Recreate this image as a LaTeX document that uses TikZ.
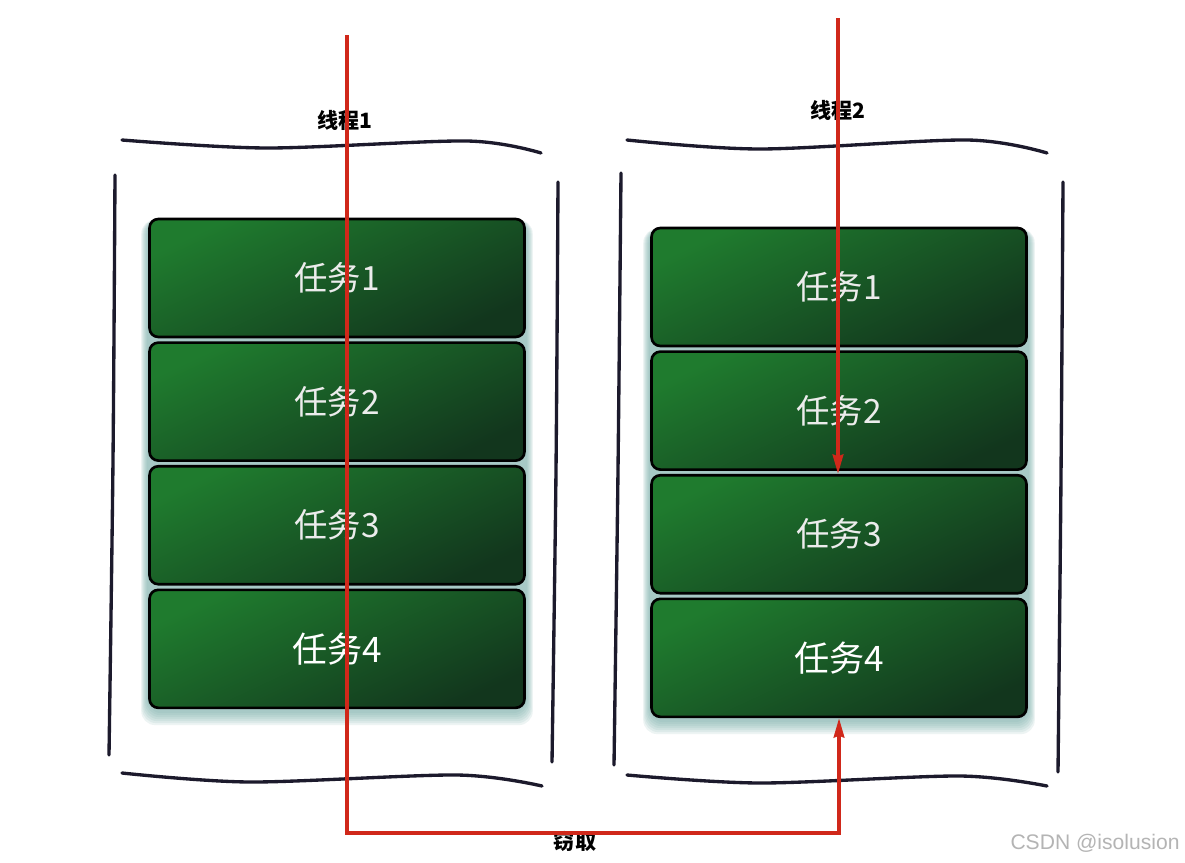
\documentclass[tikz,border=0pt]{standalone}
\usepackage{fontspec}
\setsansfont{Liberation Sans}
\newfontfamily\cjk{Noto Sans CJK SC}
\usetikzlibrary{arrows.meta,positioning,calc,backgrounds}
\definecolor{TaskHi}{HTML}{1F7B2E}
\definecolor{TaskLo}{HTML}{12361D}
\definecolor{StealRed}{HTML}{D0281A}
\definecolor{HandInk}{HTML}{1C1A2C}
\definecolor{GlowTeal}{HTML}{6FA9A4}
\definecolor{MarkGray}{HTML}{B4B4B4}

\begin{document}
\begin{tikzpicture}[x=0.02cm,y=-0.02cm,
    node distance=0.06cm,
    task/.style={draw=black,line width=1.5pt,rounded corners=5pt,
                 minimum width=7.5cm,minimum height=2.36cm,
                 top color=TaskHi,bottom color=TaskLo,shading angle=25,
                 font=\cjk\fontsize{19}{19}\selectfont,text=#1},
    task/.default=white!85!gray,
    hand/.style={HandInk,line width=1.9pt,line cap=round},
    ar/.style={-{Stealth[length=11pt,width=6pt,inset=1pt]},StealRed,line width=2pt},
    lbl/.style={font=\cjk\bfseries\fontsize{12}{12}\selectfont}]
\useasboundingbox (0,0) rectangle (1185,862);

% task stacks
\foreach \c/\x/\y in {1/337/278,2/839/287}{
  \node[task] (t\c1) at (\x,\y) {任务1};
  \node[task,below=of t\c1] (t\c2) {任务2};
  \node[task,below=of t\c2] (t\c3) {任务3};
  \node[task=white,below=of t\c3,font=\cjk\fontsize{20}{20}\selectfont] (t\c4) {任务4};
}
\begin{scope}[on background layer]
  \fill[white] (0,0) rectangle (1185,862);
  \foreach \c in {1,2}
    \foreach \k in {1,...,7}
      \fill[GlowTeal,opacity=0.12,rounded corners=8pt]
        ($(t\c1.north west)+(-\k,2)$) rectangle ($(t\c4.south east)+(\k,2*\k+2)$);
\end{scope}

% hand drawn frames
\draw[hand] plot[smooth] coordinates {(122,140) (267,148) (467,141) (541,153)};
\draw[hand] plot[smooth] coordinates {(122,773) (250,782) (457,775) (542,786)};
\draw[hand] plot[smooth] coordinates {(115,175) (113,460) (109,755)};
\draw[hand] plot[smooth] coordinates {(558,182) (556,470) (552,762)};
\draw[hand] plot[smooth] coordinates {(627,140) (760,149) (967,140) (1047,153)};
\draw[hand] plot[smooth] coordinates {(627,775) (760,783) (960,776) (1047,786)};
\draw[hand] plot[smooth] coordinates {(621,173) (618,470) (614,765)};
\draw[hand] plot[smooth] coordinates {(1063,182) (1061,475) (1058,772)};

% labels
\node[lbl] (th1) at (345,120) {线程1};
\node[lbl] (th2) at (838,110) {线程2};
\node[lbl] (steal) at (575,841) {窃取};
\node[MarkGray,font=\sffamily\fontsize{12}{12}\selectfont] (mark) at (1095,843) {CSDN @isolusion};

% red arrows
\coordinate (s1) at (347,35);
\coordinate (s2) at (838,18);
\draw[ar] (s1) -- ++(0,798) -| (t24.south);
\draw[ar] (s2) -- (s2 |- t23.north);
\end{tikzpicture}
\end{document}
